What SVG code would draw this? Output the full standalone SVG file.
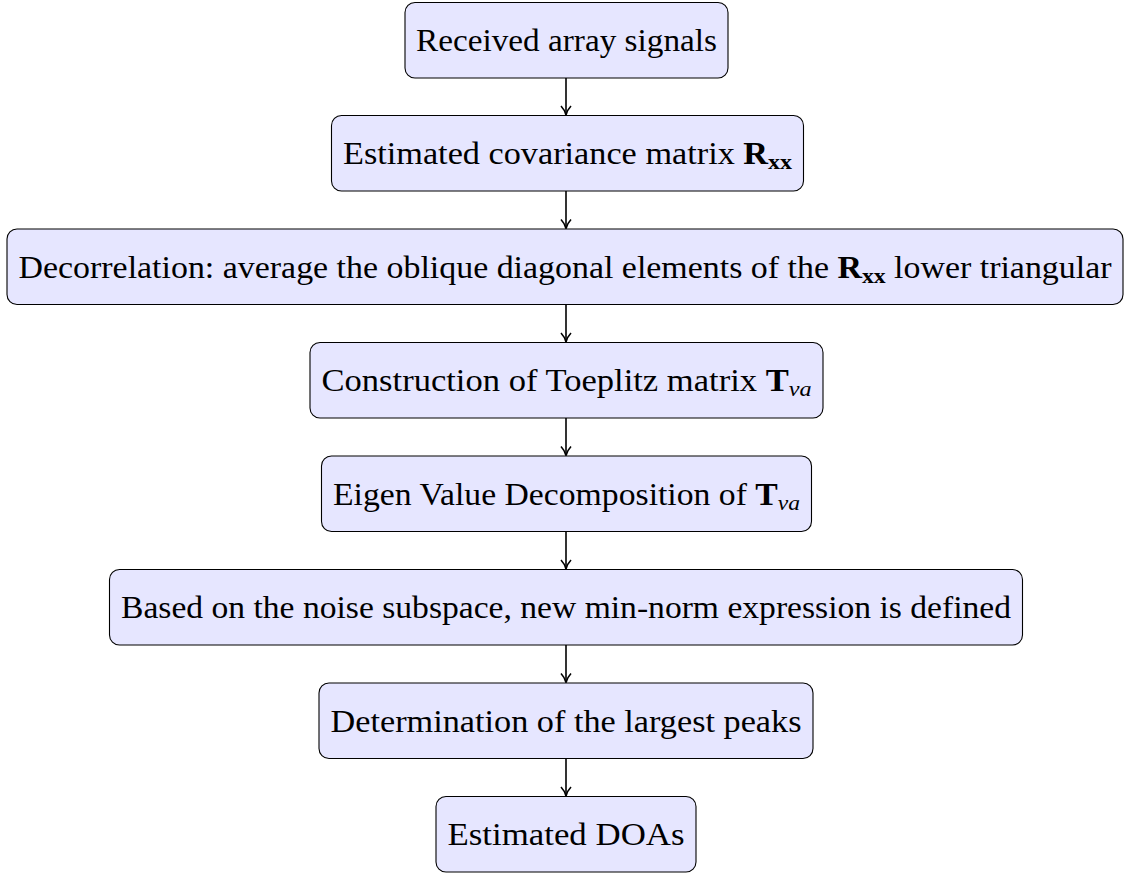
<svg xmlns="http://www.w3.org/2000/svg" width="1126" height="873" viewBox="0 0 1126 873">
<style>
.box{fill:#E6E6FF;stroke:#000;stroke-width:1.1}
.t{font-family:"Liberation Serif","Times New Roman",serif;font-size:31.5px;fill:#000;text-anchor:middle}
.b{font-weight:bold}
.sb{font-weight:bold;font-size:22px}
.si{font-style:italic;font-size:22px}
.c{stroke:#000;stroke-width:1.6;fill:none}
</style>
<g id="connectors">
<line class="c" x1="566" y1="78" x2="566" y2="115"/>
<line class="c" x1="566" y1="191" x2="566" y2="228.5"/>
<line class="c" x1="566" y1="304.5" x2="566" y2="342"/>
<line class="c" x1="566" y1="418" x2="566" y2="455.5"/>
<line class="c" x1="566" y1="531.5" x2="566" y2="569"/>
<line class="c" x1="566" y1="645" x2="566" y2="682.5"/>
<line class="c" x1="566" y1="759" x2="566" y2="796"/>
<path class="c" d="M561,106 Q564.8,110 566,115 Q567.2,110 571,106"/>
<path class="c" d="M561,219.5 Q564.8,223.5 566,228.5 Q567.2,223.5 571,219.5"/>
<path class="c" d="M561,333 Q564.8,337 566,342 Q567.2,337 571,333"/>
<path class="c" d="M561,446.5 Q564.8,450.5 566,455.5 Q567.2,450.5 571,446.5"/>
<path class="c" d="M561,560 Q564.8,564 566,569 Q567.2,564 571,560"/>
<path class="c" d="M561,673.5 Q564.8,677.5 566,682.5 Q567.2,677.5 571,673.5"/>
<path class="c" d="M561,787 Q564.8,791 566,796 Q567.2,791 571,787"/>
</g>
<g id="n1">
<rect class="box" x="405" y="2.5" width="323" height="75.5" rx="10"/>
<text class="t" x="566.5" y="51" textLength="301" lengthAdjust="spacingAndGlyphs">Received array signals</text>
</g>
<g id="n2">
<rect class="box" x="331.5" y="115.5" width="472" height="75.5" rx="10"/>
<text class="t" x="567.5" y="164" textLength="449" lengthAdjust="spacingAndGlyphs">Estimated covariance matrix <tspan class="b">R</tspan><tspan class="sb" dy="5">xx</tspan></text>
</g>
<g id="n3">
<rect class="box" x="7" y="229" width="1116" height="75.5" rx="10"/>
<text class="t" x="565" y="277.5" textLength="1093" lengthAdjust="spacingAndGlyphs">Decorrelation:  average the oblique diagonal elements of the <tspan class="b">R</tspan><tspan class="sb" dy="5">xx</tspan><tspan dy="-5"> lower triangular</tspan></text>
</g>
<g id="n4">
<rect class="box" x="310" y="342.5" width="513" height="75.5" rx="10"/>
<text class="t" x="566.5" y="391" textLength="490" lengthAdjust="spacingAndGlyphs">Construction of Toeplitz matrix <tspan class="b">T</tspan><tspan class="si" dy="5">va</tspan></text>
</g>
<g id="n5">
<rect class="box" x="321.5" y="456" width="490" height="75.5" rx="10"/>
<text class="t" x="566.5" y="504.5" textLength="467" lengthAdjust="spacingAndGlyphs">Eigen Value Decomposition of <tspan class="b">T</tspan><tspan class="si" dy="5">va</tspan></text>
</g>
<g id="n6">
<rect class="box" x="109.5" y="569.5" width="913" height="75.5" rx="10"/>
<text class="t" x="566" y="618" textLength="890" lengthAdjust="spacingAndGlyphs">Based on the noise subspace, new min-norm expression is defined</text>
</g>
<g id="n7">
<rect class="box" x="319" y="683" width="494" height="75.5" rx="10"/>
<text class="t" x="566" y="731.5" textLength="471" lengthAdjust="spacingAndGlyphs">Determination of the largest peaks</text>
</g>
<g id="n8">
<rect class="box" x="436" y="796.5" width="260" height="75.5" rx="10"/>
<text class="t" x="566" y="845" textLength="237" lengthAdjust="spacingAndGlyphs">Estimated DOAs</text>
</g>
</svg>
